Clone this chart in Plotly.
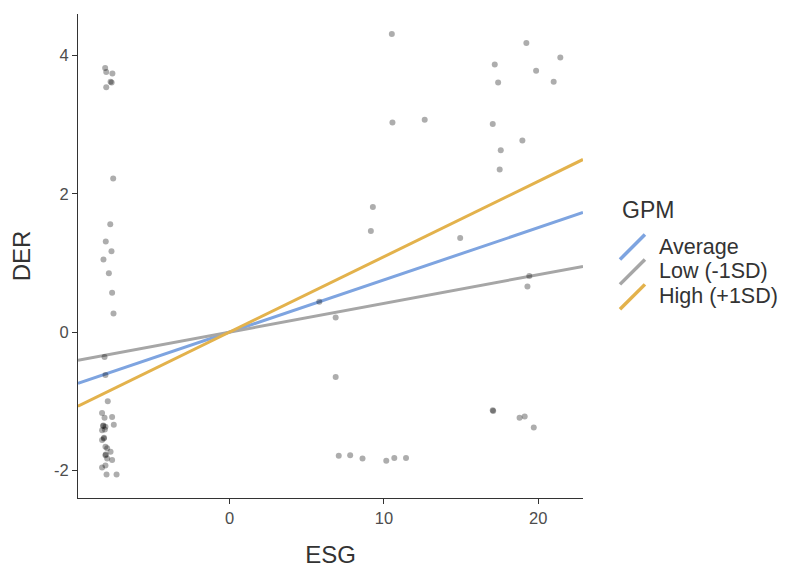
import plotly.graph_objects as go

# ---------------- data ----------------
esg = [
    # left cluster (upper)
    -8.07, -8.00, -7.60, -7.72, -7.65, -8.00, -7.55, -7.74, -8.03, -7.66, -8.18, -7.83, -7.62, -7.53,
    # left cluster (lower)
    -8.11, -8.05, -7.90, -8.27, -8.11, -7.62, -7.51, -8.20, -8.05, -8.27, -8.16, -8.27, -8.05, -7.94,
    -7.72, -8.05, -7.94, -7.62, -8.05, -8.27, -7.98, -7.33, -8.19, -8.14, -8.03, -8.09,
    # right side
    10.51, 19.23, 21.43, 17.18, 19.86, 17.40, 21.00, 10.55, 12.64, 17.05, 18.97, 17.57, 17.50,
    9.28, 9.15, 14.94, 5.81, 6.87, 19.42, 19.30, 6.87, 17.05, 17.08, 18.79, 19.12, 19.71,
    7.07, 7.81, 8.61, 10.15, 10.67, 11.43,
]
der = [
    3.82, 3.76, 3.74, 3.62, 3.61, 3.54, 2.22, 1.56, 1.31, 1.17, 1.05, 0.85, 0.57, 0.27,
    -0.36, -0.62, -1.00, -1.17, -1.24, -1.23, -1.34, -1.36, -1.37, -1.42, -1.54, -1.56, -1.66, -1.68,
    -1.73, -1.78, -1.83, -1.85, -1.93, -1.96, -2.06, -2.06, -1.35, -1.53, -1.77, -1.41,
    4.31, 4.18, 3.97, 3.87, 3.78, 3.61, 3.62, 3.03, 3.07, 3.01, 2.77, 2.63, 2.35,
    1.81, 1.46, 1.36, 0.44, 0.21, 0.81, 0.66, -0.65, -1.13, -1.14, -1.24, -1.22, -1.38,
    -1.79, -1.78, -1.83, -1.86, -1.82, -1.82,
]

esg_range = [-9.83, 22.9]
der_range = [-2.40, 4.60]

groups = ["Average", "Low (-1SD)", "High (+1SD)"]
slopes = [0.0755, 0.0415, 0.109]
intercepts = [0.0, 0.0, 0.0]
colors = ["#7ea4e0", "#a6a6a6", "#e3b24c"]

x_ticks = [0, 10, 20]
y_ticks = [-2, 0, 2, 4]
y_tick_text = ["-2", "0", "2", "4"]

# ---------------- figure ----------------
OFF = 8  # default page body margin
W, H = 792 - OFF, 570 - OFF
# plot area in page pixels
L, R, T, B = 77.5, 583, 14, 500

fig = go.Figure()

for g, m, b, c in zip(groups, slopes, intercepts, colors):
    xs = esg_range
    ys = [b + m * x for x in xs]
    fig.add_trace(go.Scatter(x=xs, y=ys, mode="lines", name=g,
                             line=dict(color=c, width=3), showlegend=False))

fig.add_trace(go.Scatter(x=esg, y=der, mode="markers", showlegend=False,
                         marker=dict(size=6, color="rgba(0,0,0,0.32)", line=dict(width=0))))

font = "Liberation Sans, Arial, sans-serif"


def px_x(p):
    return (p - L) / (R - L)


def px_y(p):
    return (B - p) / (B - T)


# custom legend (ggplot style diagonal keys)
fig.add_annotation(x=px_x(620), y=px_y(211), xref="paper", yref="paper", text="GPM",
                   showarrow=False, xanchor="left", yanchor="middle",
                   font=dict(family=font, size=23, color="#333333"))
key_y = [247.5, 272.5, 297.5]
for g, c, ky in zip(groups, colors, key_y):
    fig.add_shape(type="line", xref="paper", yref="paper",
                  x0=px_x(620), y0=px_y(ky + 13), x1=px_x(645), y1=px_y(ky - 12),
                  line=dict(color=c, width=3.5))
    fig.add_annotation(x=px_x(657), y=px_y(ky), xref="paper", yref="paper", text=g,
                       showarrow=False, xanchor="left", yanchor="middle",
                       font=dict(family=font, size=21.5, color="#333333"))

fig.update_layout(
    width=W, height=H,
    margin=dict(l=L - OFF, r=W - (R - OFF), t=T - OFF, b=H - (B - OFF)),
    paper_bgcolor="white", plot_bgcolor="white",
    font=dict(family=font, color="#333333"),
    showlegend=False,
)
fig.update_xaxes(range=esg_range, tickvals=x_ticks, showgrid=False, zeroline=False,
                 showline=True, linecolor="#333333", linewidth=1.2,
                 ticks="outside", ticklen=5, tickcolor="#333333",
                 tickfont=dict(size=16.5, color="#4d4d4d"),
                 title=dict(text="ESG", font=dict(size=24, color="#333333"), standoff=20))
fig.update_yaxes(range=der_range, tickvals=y_ticks, ticktext=y_tick_text,
                 showgrid=False, zeroline=False,
                 showline=True, linecolor="#333333", linewidth=1.2,
                 ticks="outside", ticklen=5, tickcolor="#333333",
                 tickfont=dict(size=16.5, color="#4d4d4d"),
                 title=dict(text="DER", font=dict(size=24, color="#333333"), standoff=16))

fig.write_html("out.html")
